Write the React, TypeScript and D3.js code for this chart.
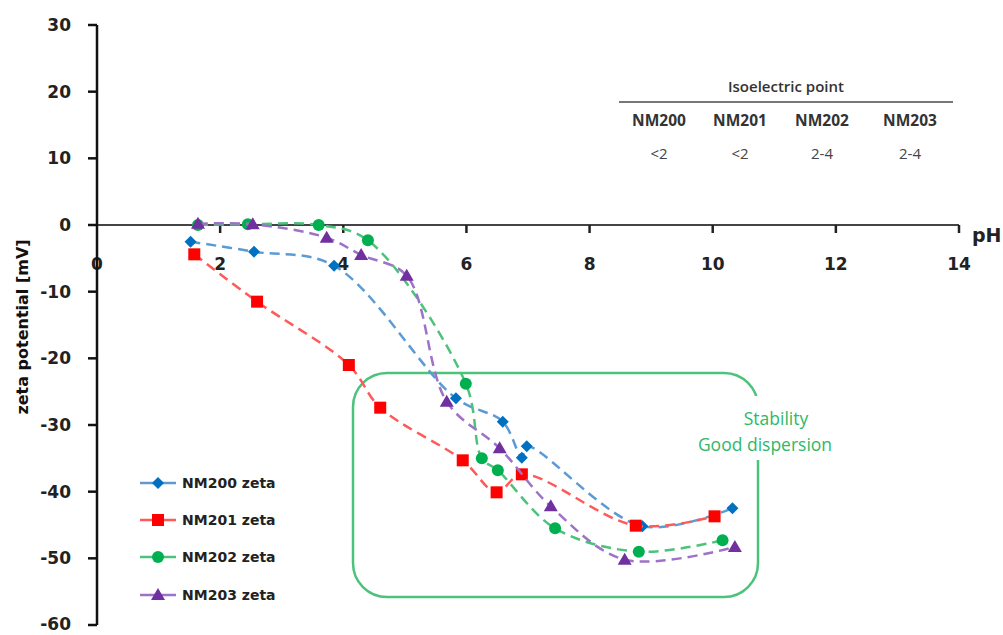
import React from "react";
import * as d3 from "d3";

// Zeta potential versus pH for four nanomaterials
type Pt = [number, number];

const nm200: Pt[] = [[1.52, -2.5], [2.55, -4.0], [3.85, -6.1], [5.83, -26.0], [6.59, -29.5], [6.9, -34.9], [6.98, -33.2], [8.86, -45.2], [10.32, -42.5]];
const nm201: Pt[] = [[1.58, -4.4], [2.6, -11.5], [4.09, -21.0], [4.6, -27.4], [5.94, -35.3], [6.49, -40.1], [6.9, -37.4], [8.75, -45.1], [10.03, -43.7]];
const nm202: Pt[] = [[1.64, 0.0], [2.45, 0.1], [3.6, 0.0], [4.4, -2.3], [5.99, -23.8], [6.25, -35.0], [6.51, -36.8], [7.44, -45.5], [8.8, -49.0], [10.16, -47.3]];
const nm203: Pt[] = [[1.64, 0.2], [2.53, 0.1], [3.73, -1.9], [4.29, -4.5], [5.03, -7.6], [5.68, -26.5], [6.54, -33.5], [7.37, -42.2], [8.57, -50.2], [10.36, -48.3]];

const xTicks = [0, 2, 4, 6, 8, 10, 12, 14];
const yTicks = [30, 20, 10, 0, -10, -20, -30, -40, -50, -60];

const seriesNames = ["NM200 zeta", "NM201 zeta", "NM202 zeta", "NM203 zeta"];
const tableHeaders = ["NM200", "NM201", "NM202", "NM203"];
const tableValues = ["<2", "<2", "2-4", "2-4"];

const series = [
  { name: seriesNames[0], data: nm200, line: "#5b9bd5", marker: "#0070c0", shape: "diamond" },
  { name: seriesNames[1], data: nm201, line: "#ff5a5a", marker: "#ff0000", shape: "square" },
  { name: seriesNames[2], data: nm202, line: "#4cc27a", marker: "#00b050", shape: "circle" },
  { name: seriesNames[3], data: nm203, line: "#9d72c8", marker: "#7030a0", shape: "triangle" },
];

const x = d3.scaleLinear().domain([0, 14]).range([97, 959]);
const y = d3.scaleLinear().domain([-60, 30]).range([625, 25]);

const line = d3
  .line<Pt>()
  .x((d) => x(d[0]))
  .y((d) => y(d[1]))
  .curve(d3.curveCatmullRom.alpha(0.5));

function Marker({ shape, cx, cy, fill }: { shape: string; cx: number; cy: number; fill: string }) {
  if (shape === "diamond") {
    const s = 6;
    return <path d={`M${cx},${cy - s}L${cx + s},${cy}L${cx},${cy + s}L${cx - s},${cy}Z`} fill={fill} />;
  }
  if (shape === "square") {
    return <rect x={cx - 6} y={cy - 6} width={12} height={12} fill={fill} />;
  }
  if (shape === "circle") {
    return <circle cx={cx} cy={cy} r={6} fill={fill} />;
  }
  return <path d={`M${cx},${cy - 7}L${cx + 7},${cy + 5}L${cx - 7},${cy + 5}Z`} fill={fill} />;
}

const axisFont = "'DejaVu Sans', Verdana, sans-serif";
const calibriLike = "'Open Sans', 'Lato', sans-serif";

export default function App() {
  const legendY = [483, 520, 557, 595];
  const colX = [659, 740, 822, 910];
  return (
    <svg width={1003} height={635} style={{ position: "absolute", left: 0, top: 0, background: "#fff" }}>
      {/* Stability region */}
      <rect x={353} y={373} width={405} height={224} rx={34} ry={34} fill="none" stroke="#4cc27a" strokeWidth={2.5} />
      <rect x={607} y={396} width={235} height={64} fill="#fff" />
      <text x={776} y={425} textAnchor="middle" fontFamily={calibriLike} fontSize={17.5} fill="#2fb868">Stability</text>
      <text x={765} y={451} textAnchor="middle" fontFamily={calibriLike} fontSize={17.5} fill="#2fb868">Good dispersion</text>

      {/* Isoelectric point table */}
      <text x={786} y={92} textAnchor="middle" fontFamily={calibriLike} fontWeight={600} fontSize={15} fill="#333">Isoelectric point</text>
      <line x1={619} x2={953} y1={102} y2={102} stroke="#777" strokeWidth={2} />
      {tableHeaders.map((h, i) => (
        <text key={h} x={colX[i]} y={126} textAnchor="middle" fontFamily={calibriLike} fontWeight={700} fontSize={15.5} fill="#333">{h}</text>
      ))}
      {tableValues.map((v, i) => (
        <text key={i} x={colX[i]} y={159} textAnchor="middle" fontFamily={calibriLike} fontSize={15} fill="#444">{v}</text>
      ))}

      {/* X axis tick labels (below zero line) */}
      {xTicks.map((t) => (
        <text key={t} x={x(t)} y={270} textAnchor="middle" fontFamily={axisFont} fontWeight={700} fontSize={17} fill="#222">{t}</text>
      ))}

      {/* X axis along zero */}
      <line x1={x(0)} x2={x(14)} y1={y(0)} y2={y(0)} stroke="#444" strokeWidth={2} />
      {xTicks.slice(1).map((t) => (
        <line key={t} x1={x(t)} x2={x(t)} y1={y(0)} y2={y(0) + 8} stroke="#222" strokeWidth={2.5} />
      ))}
      <text x={972} y={242} fontFamily={axisFont} fontWeight={700} fontSize={19} fill="#222">pH</text>

      {/* Y axis */}
      <line x1={97} x2={97} y1={y(30)} y2={y(-60)} stroke="#111" strokeWidth={2.5} />
      {yTicks.map((t) => (
        <g key={t}>
          <line x1={88} x2={97} y1={y(t)} y2={y(t)} stroke="#111" strokeWidth={2.5} />
          <text x={71} y={Math.min(y(t) + 6, 630)} textAnchor="end" fontFamily={axisFont} fontWeight={700} fontSize={17} fill="#222">{t}</text>
        </g>
      ))}
      <text
        transform="translate(28,327) rotate(-90)"
        textAnchor="middle"
        fontFamily={axisFont}
        fontWeight={700}
        fontSize={16}
        fill="#111"
      >
        zeta potential [mV]
      </text>

      {/* Series */}
      {series.map((s) => (
        <g key={s.name}>
          <path d={line(s.data) ?? ""} fill="none" stroke={s.line} strokeWidth={2.5} strokeDasharray="10,6" />
          {s.data.map((d, i) => (
            <Marker key={i} shape={s.shape} cx={x(d[0])} cy={y(d[1])} fill={s.marker} />
          ))}
        </g>
      ))}

      {/* Legend */}
      {series.map((s, i) => (
        <g key={s.name}>
          <line x1={140} x2={176} y1={legendY[i]} y2={legendY[i]} stroke={s.line} strokeWidth={2.5} />
          <Marker shape={s.shape} cx={158} cy={legendY[i]} fill={s.marker} />
          <text x={182} y={legendY[i] + 5} fontFamily={axisFont} fontWeight={700} fontSize={14} fill="#222">{s.name}</text>
        </g>
      ))}
    </svg>
  );
}
